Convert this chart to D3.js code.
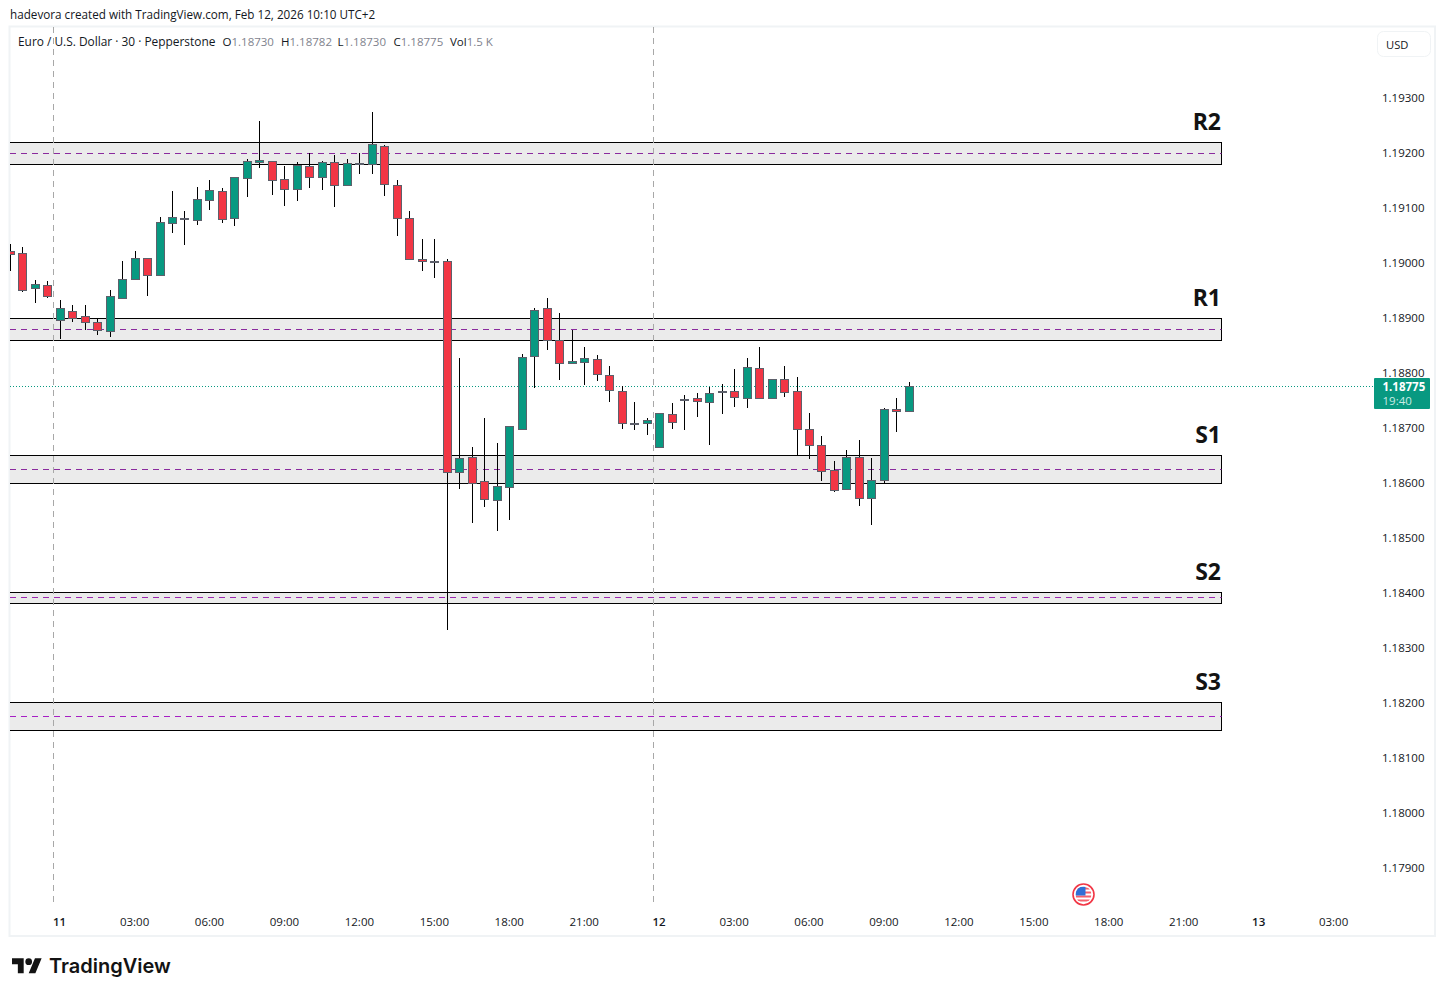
<!DOCTYPE html>
<html>
<head>
<meta charset="utf-8">
<title>EURUSD 30</title>
<script src="https://cdn.jsdelivr.net/npm/d3@7/dist/d3.min.js"></script>
<style>
html,body{margin:0;padding:0;background:#fff;}
svg{display:block;font-family:"Open Sans",sans-serif;}
</style>
</head>
<body>
<div id="chart"></div>
<script>
// EUR/USD 30-minute candles, oldest first; the first bar sits four slots before midnight on the 11th.
const firstBar = -4;
const opens = [
  1.19020,1.19016,1.18952,1.18958,1.18895,1.18911,1.18901,1.18891,1.18875,1.18935,
  1.18970,1.19007,1.18977,1.19070,1.19078,1.19076,1.19113,1.19129,1.19080,1.19152,
  1.19182,1.19184,1.19151,1.19133,1.19175,1.19155,1.19182,1.19140,1.19178,1.19179,
  1.19211,1.19140,1.19080,1.19005,1.19002,1.19002,1.18618,1.18645,1.18602,1.18567,
  1.18591,1.18697,1.18829,1.18916,1.18858,1.18816,1.18818,1.18824,1.18795,1.18765,
  1.18707,1.18707,1.18664,1.18724,1.18749,1.18753,1.18745,1.18764,1.18765,1.18753,
  1.18807,1.18753,1.18787,1.18765,1.18696,1.18667,1.18622,1.18587,1.18645,1.18571,
  1.18604,1.18733,1.18730
];
const highs = [
  1.19034,1.19028,1.18968,1.18966,1.18932,1.18923,1.18923,1.18900,1.18950,1.19003,
  1.19021,1.19007,1.19083,1.19130,1.19093,1.19137,1.19150,1.19135,1.19155,1.19189,
  1.19257,1.19184,1.19175,1.19182,1.19199,1.19184,1.19195,1.19189,1.19199,1.19273,
  1.19214,1.19150,1.19093,1.19043,1.19043,1.19006,1.18826,1.18665,1.18717,1.18672,
  1.18702,1.18834,1.18917,1.18935,1.18908,1.18877,1.18846,1.18831,1.18811,1.18775,
  1.18746,1.18718,1.18727,1.18744,1.18759,1.18762,1.18774,1.18780,1.18807,1.18826,
  1.18846,1.18789,1.18811,1.18791,1.18726,1.18684,1.18639,1.18659,1.18677,1.18645,
  1.18735,1.18753,1.18782
];
const lows = [
  1.18985,1.18947,1.18927,1.18936,1.18861,1.18892,1.18877,1.18869,1.18865,1.18935,
  1.18970,1.18940,1.18977,1.19054,1.19032,1.19069,1.19096,1.19072,1.19067,1.19120,
  1.19172,1.19123,1.19103,1.19112,1.19136,1.19132,1.19101,1.19140,1.19161,1.19161,
  1.19121,1.19049,1.19005,1.18985,1.18972,1.18332,1.18589,1.18527,1.18556,1.18511,
  1.18532,1.18696,1.18772,1.18841,1.18787,1.18816,1.18778,1.18785,1.18747,1.18698,
  1.18696,1.18687,1.18663,1.18698,1.18696,1.18720,1.18669,1.18725,1.18738,1.18736,
  1.18753,1.18751,1.18756,1.18649,1.18643,1.18603,1.18583,1.18587,1.18558,1.18523,
  1.18598,1.18691,1.18730
];
const closes = [
  1.19015,1.18950,1.18960,1.18939,1.18916,1.18898,1.18891,1.18877,1.18938,1.18969,
  1.19007,1.18977,1.19073,1.19082,1.19080,1.19115,1.19131,1.19078,1.19155,1.19184,
  1.19185,1.19150,1.19133,1.19176,1.19154,1.19182,1.19140,1.19180,1.19180,1.19215,
  1.19142,1.19080,1.19005,1.19002,1.19000,1.18618,1.18644,1.18598,1.18569,1.18593,
  1.18702,1.18827,1.18913,1.18858,1.18816,1.18820,1.18825,1.18796,1.18767,1.18707,
  1.18708,1.18713,1.18725,1.18709,1.18751,1.18747,1.18762,1.18765,1.18755,1.18809,
  1.18753,1.18787,1.18764,1.18696,1.18667,1.18620,1.18585,1.18645,1.18571,1.18604,
  1.18733,1.18729,1.18775
];

// Support and resistance zones: name, upper edge, lower edge, centre level.
const zoneNames  = ["R2","R1","S1","S2","S3"];
const zoneTops   = [1.19218,1.18898,1.18649,1.18400,1.18200];
const zoneBottoms= [1.19178,1.18858,1.18598,1.18380,1.18149];
const zoneLevels = [1.19199,1.18878,1.18624,1.18391,1.18174];
const zoneDash   = ["#8a2a9e","#8a2a9e","#8a2a9e","#9c27b0","#a61fc4"];

const priceTicks = [1.193,1.192,1.191,1.19,1.189,1.188,1.187,1.186,1.185,1.184,1.183,1.182,1.181,1.18,1.179];

// Time axis labels, one every six bars; day numbers are emphasised.
const timeLabels = ["11","03:00","06:00","09:00","12:00","15:00","18:00","21:00","12","03:00","06:00","09:00","12:00","15:00","18:00","21:00","13","03:00"];
const dayLabels = ["11","12","13"];
const sessionBreaks = [-0.5,47.5]; // vertical session separators, in bar units

const lastPrice = 1.18775;
const countdown = "19:40";
const legendName = "Euro / U.S. Dollar · 30 · Pepperstone";
const legendFields = [["O","1.18730"],["H","1.18782"],["L","1.18730"],["C","1.18775"],["Vol","1.5 K"]];

const INK = "#131722", UP = "#089981", DOWN = "#f23645", EDGE = "#5d606b", PANE = "#f0f3f5";
const W = 1445, H = 996;

const svg = d3.select("#chart").append("svg").attr("width", W).attr("height", H);

const y = d3.scaleLinear().domain([1.193, 1.179]).range([97.5, 867.5]);
const x = d3.scaleLinear().domain([-4, 68]).range([10.14, 909.42]);
const crisp = v => Math.round(v - 0.5) + 0.5;
const px = i => Math.floor(x(i)) + 0.5;

// Watermark line above the pane
svg.append("text").attr("x", 10).attr("y", 18.5).attr("font-size", 11.7).attr("fill", INK)
  .text("hadevora created with TradingView.com, Feb 12, 2026 10:10 UTC+2");

// Pane frame
svg.append("rect").attr("x", 9.5).attr("y", 26.5).attr("width", 1425.5).attr("height", 909.5)
  .attr("fill", "#fff").attr("stroke", PANE).attr("stroke-width", 2);

svg.append("clipPath").attr("id", "pane").append("rect")
  .attr("x", 10).attr("y", 27).attr("width", 1364).attr("height", 880);
const pane = svg.append("g").attr("clip-path", "url(#pane)");

// Zones
const zones = zoneNames.map((name, i) => ({name, top: zoneTops[i], bottom: zoneBottoms[i], level: zoneLevels[i], dash: zoneDash[i]}));
const zoneRight = 1221.5;
const zoneG = pane.append("g");
zoneG.selectAll("rect").data(zones).join("rect")
  .attr("x", 0).attr("width", zoneRight)
  .attr("y", d => crisp(y(d.top)))
  .attr("height", d => crisp(y(d.bottom)) - crisp(y(d.top)))
  .attr("fill", "#ebebeb").attr("stroke", "#000").attr("stroke-width", 1);
zoneG.selectAll("line").data(zones).join("line")
  .attr("x1", 10).attr("x2", zoneRight)
  .attr("y1", d => crisp(y(d.level))).attr("y2", d => crisp(y(d.level)))
  .attr("stroke", d => d.dash).attr("stroke-width", 1).attr("stroke-dasharray", "6 5");
svg.append("g").selectAll("text").data(zones).join("text")
  .attr("x", 1221).attr("y", d => crisp(y(d.top)) - 13)
  .attr("text-anchor", "end").attr("font-size", 23).attr("font-weight", 700).attr("fill", "#131313")
  .text(d => d.name);

// Session separators
pane.append("g").selectAll("line").data(sessionBreaks).join("line")
  .attr("x1", d => px(d)).attr("x2", d => px(d)).attr("y1", 27).attr("y2", 907)
  .attr("stroke", "#a8a8a8").attr("stroke-width", 1).attr("stroke-dasharray", "6 5");

// Last price line
pane.append("line").attr("x1", 10).attr("x2", 1374)
  .attr("y1", crisp(y(lastPrice))).attr("y2", crisp(y(lastPrice)))
  .attr("stroke", UP).attr("stroke-width", 1).attr("stroke-dasharray", "1 2");

// Candles
const bars = opens.map((o, j) => ({i: firstBar + j, o, h: highs[j], l: lows[j], c: closes[j]}));
const barG = pane.append("g").selectAll("g").data(bars).join("g");
barG.append("line")
  .attr("x1", d => px(d.i)).attr("x2", d => px(d.i))
  .attr("y1", d => Math.round(y(d.h))).attr("y2", d => Math.round(y(d.l)))
  .attr("stroke", "#000").attr("stroke-width", 1);
barG.append("rect")
  .attr("x", d => px(d.i) - 4).attr("width", 8)
  .attr("y", d => crisp(y(Math.max(d.o, d.c))))
  .attr("height", d => Math.max(1, crisp(y(Math.min(d.o, d.c))) - crisp(y(Math.max(d.o, d.c)))))
  .attr("fill", d => d.c >= d.o ? UP : DOWN)
  .attr("stroke", EDGE).attr("stroke-width", 1);

// Price axis
const priceAxis = d3.axisRight(y).tickValues(priceTicks).tickSize(0).tickPadding(0).tickFormat(d3.format(".5f"));
const pa = svg.append("g").attr("transform", "translate(1382,0)").call(priceAxis);
pa.select(".domain").remove();
pa.selectAll("text").style("font-family", "'Open Sans',sans-serif").style("font-size", "11.5px").attr("fill", INK);

// Time axis, drawn in bar units with a label every six bars
const timeTicks = timeLabels.map((_, k) => k * 6);
const timeAxis = d3.axisBottom(x).tickValues(timeTicks).tickSize(0).tickPadding(0)
  .tickFormat((d, k) => timeLabels[k]);
const ta = svg.append("g").attr("transform", "translate(-1,915)").call(timeAxis);
ta.select(".domain").remove();
ta.selectAll("text").style("font-family", "'Open Sans',sans-serif").style("font-size", "11.5px")
  .attr("y", 3).attr("fill", INK)
  .style("font-weight", (d, k) => dayLabels.includes(timeLabels[k]) ? 600 : 400);

// Legend row
const legend = svg.append("g");
legend.append("text").attr("x", 18).attr("y", 46).attr("font-size", 11.9).attr("fill", INK).text(legendName);
const legendStarts = [222.5, 281, 337.5, 393.5, 450];
legendFields.forEach(([k, v], i) => {
  const t = legend.append("text").attr("x", legendStarts[i]).attr("y", 46).attr("font-size", 11.5);
  t.append("tspan").attr("fill", INK).text(k);
  t.append("tspan").attr("fill", "#7f838e").text(v);
});

// Currency button
svg.append("rect").attr("x", 1377.5).attr("y", 31.5).attr("width", 53).attr("height", 25).attr("rx", 6)
  .attr("fill", "#fff").attr("stroke", PANE);
svg.append("text").attr("x", 1386).attr("y", 48.5).attr("font-size", 11.2).attr("fill", INK).text("USD");

// Last price tag
svg.append("rect").attr("x", 1374).attr("y", 378).attr("width", 56).attr("height", 31).attr("rx", 1).attr("fill", UP);
svg.append("text").attr("x", 1382.5).attr("y", 391).attr("font-size", 11.5).attr("font-weight", 700).attr("fill", "#fff")
  .text(d3.format(".5f")(lastPrice));
svg.append("text").attr("x", 1382.5).attr("y", 405).attr("font-size", 11.5).attr("fill", "#c8ebe4").text(countdown);

// Economic event flag
const flag = svg.append("g").attr("transform", "translate(1083.5,894.5)");
svg.append("clipPath").attr("id", "flagClip").append("circle").attr("cx", 1083.5).attr("cy", 894.5).attr("r", 8);
flag.append("circle").attr("r", 10.5).attr("fill", "#fff").attr("stroke", DOWN).attr("stroke-width", 1.6);
const flagBody = svg.append("g").attr("clip-path", "url(#flagClip)").append("g").attr("transform", "translate(1083.5,894.5)");
flagBody.append("rect").attr("x", -8).attr("y", -8).attr("width", 16).attr("height", 16).attr("fill", "#fff");
flagBody.selectAll(".stripe").data([-7, -3, 1, 5]).join("rect").attr("class", "stripe")
  .attr("x", -8).attr("width", 16).attr("y", d => d).attr("height", 2).attr("fill", "#f4606c");
flagBody.append("rect").attr("x", -8).attr("y", -8).attr("width", 10).attr("height", 9).attr("fill", "#2f6fd6");

// Brand mark
const logo = svg.append("g").attr("transform", "translate(12,955) scale(0.835)").attr("fill", "#131313");
logo.append("path").attr("d", "M14 22H7V11H0V4h14v18zM28 22h-8l7.5-18h8L28 22z");
logo.append("circle").attr("cx", 20).attr("cy", 8).attr("r", 4);
svg.append("text").attr("x", 49).attr("y", 973)
  .style("font-family", "Inter,sans-serif").style("font-size", "20px").style("font-weight", 600)
  .attr("fill", "#131313").text("TradingView");
</script>
</body>
</html>
